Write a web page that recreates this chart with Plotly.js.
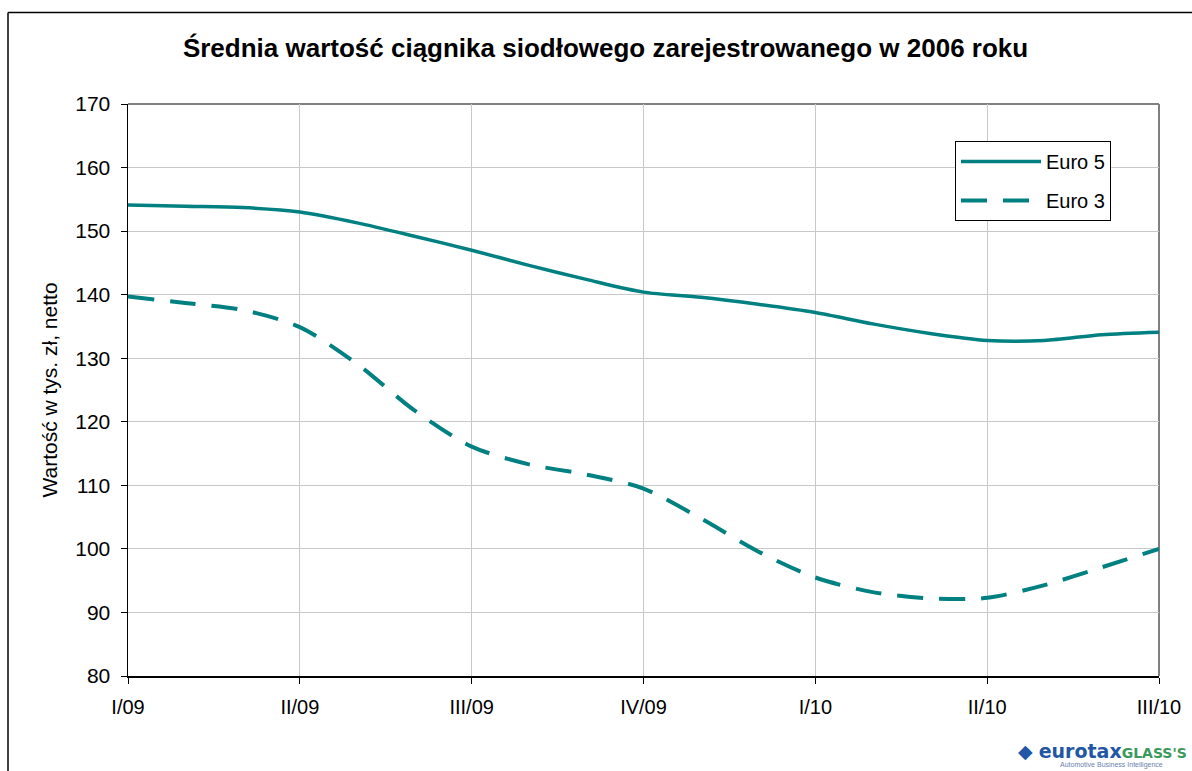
<!DOCTYPE html>
<html>
<head>
<meta charset="utf-8">
<script src="https://cdn.plot.ly/plotly-3.0.1.min.js"></script>
<style>
  html, body { margin: 0; padding: 0; background: #fff; }
  #chart { width: 1192px; height: 771px; }
</style>
</head>
<body>
<div id="chart"></div>
<script>
// Monthly categories (Jan 2009 – Jul 2010)
const months = ['01.2009','02.2009','03.2009','04.2009','05.2009','06.2009','07.2009','08.2009','09.2009','10.2009','11.2009','12.2009','01.2010','02.2010','03.2010','04.2010','05.2010','06.2010','07.2010'];
// Quarter ticks and labels
const quarterTicks = ['01.2009','04.2009','07.2009','10.2009','01.2010','04.2010','07.2010'];
const quarterLabels = ['I/09','II/09','III/09','IV/09','I/10','II/10','III/10'];
// Series values (thousand PLN, net)
const euro5 = [154.1, 153.9, 153.7, 153.0, 151.3, 149.2, 147.0, 144.6, 142.4, 140.4, 139.6, 138.5, 137.2, 135.4, 133.9, 132.8, 132.8, 133.7, 134.1];
const euro3 = [139.7, 138.7, 137.6, 134.9, 129.1, 121.8, 116.1, 113.3, 111.7, 109.5, 104.8, 99.6, 95.5, 93.2, 92.2, 92.3, 94.3, 97.1, 100.0];
const seriesNames = ['Euro 5', 'Euro 3'];

const teal = 'rgb(0,128,128)';
const FONT = 'Liberation Sans, Arial, sans-serif';

// plot-area pixel geometry helpers for paper coords
const L = 128, R = 1159, T = 104, B = 676;
const px = x => (x - L) / (R - L);
const py = y => (B - y) / (B - T);

const traces = [
  { x: months, y: euro5, name: seriesNames[0], type: 'scatter', mode: 'lines', legendgroup: 'a',
    line: { color: teal, width: 3.5, shape: 'spline', smoothing: 0.8 } },
  { x: months, y: euro3, name: seriesNames[1], type: 'scatter', mode: 'lines', legendgroup: 'b',
    line: { color: teal, width: 4, shape: 'spline', smoothing: 0.8, dash: '26px,16px' } }
];

const layout = {
  width: 1192, height: 771,
  margin: { l: L, r: 1192 - R, t: T, b: 771 - B, pad: 0 },
  paper_bgcolor: '#fff', plot_bgcolor: '#fff',
  font: { family: FONT, color: '#000', size: 20 },
  title: { text: '<b>Średnia wartość ciągnika siodłowego zarejestrowanego w 2006 roku</b>',
           x: 0.508, xref: 'container', xanchor: 'center', y: 1 - 48/771, yref: 'container', yanchor: 'middle',
           font: { family: FONT, size: 26, color: '#000' } },
  showlegend: true,
  legend: { x: px(955), y: py(141), xanchor: 'left', yanchor: 'top', bordercolor: '#000', borderwidth: 1,
            bgcolor: '#fff', font: { family: FONT, size: 20 }, itemwidth: 80, tracegroupgap: 10 },
  xaxis: { type: 'category', range: [0, 18], tickmode: 'array', tickvals: quarterTicks, ticktext: quarterLabels,
           showgrid: true, gridcolor: '#c8c8c8', gridwidth: 1, zeroline: false,
           showline: true, linecolor: '#000', linewidth: 1.5,
           ticks: 'outside', ticklen: 6, tickcolor: '#000', tickwidth: 1,
           ticklabelstandoff: 6, tickfont: { family: FONT, size: 20 } },
  yaxis: { range: [80, 170], dtick: 10, tick0: 80, showgrid: true, gridcolor: '#c8c8c8', gridwidth: 1,
           zeroline: false, showline: true, linecolor: '#000', linewidth: 1.5,
           ticks: 'outside', ticklen: 6, tickcolor: '#000', tickwidth: 1, ticklabelstandoff: 6,
           tickfont: { family: FONT, size: 21 },
           title: { text: 'Wartość w tys. zł, netto', standoff: 12, font: { family: FONT, size: 21 } } },
  shapes: [
    // plot area frame (top/right in gray)
    { type: 'line', xref: 'paper', yref: 'paper', x0: 0, x1: 1, y0: 1, y1: 1, line: { color: '#808080', width: 2 }, layer: 'below' },
    { type: 'line', xref: 'paper', yref: 'paper', x0: 1, x1: 1, y0: 0, y1: 1, line: { color: '#808080', width: 2 }, layer: 'below' },
    // outer chart frame
    { type: 'line', xref: 'paper', yref: 'paper', x0: px(8), x1: px(1192), y0: py(12.5), y1: py(12.5), line: { color: '#000', width: 1.5 } },
    { type: 'line', xref: 'paper', yref: 'paper', x0: px(8), x1: px(8), y0: py(12.5), y1: py(771), line: { color: '#000', width: 1.5 } }
  ],
  annotations: [
    { xref: 'paper', yref: 'paper', x: px(1189), y: py(751), xanchor: 'right', yanchor: 'middle', showarrow: false,
      text: "<span style='color:#2157a5'>◆</span> <b><span style='color:#2157a5'>eurotax</span><span style='color:#3a9a5b;font-size:14px'>GLASS'S</span></b>",
      font: { family: 'DejaVu Sans, sans-serif', size: 19 } },
    { xref: 'paper', yref: 'paper', x: px(1165), y: py(765), xanchor: 'right', yanchor: 'middle', showarrow: false,
      text: 'Automotive Business Intelligence', font: { family: FONT, size: 7, color: '#6a7fb0' } }
  ]
};

Plotly.newPlot('chart', traces, layout, { displayModeBar: false, staticPlot: true });
</script>
</body>
</html>
